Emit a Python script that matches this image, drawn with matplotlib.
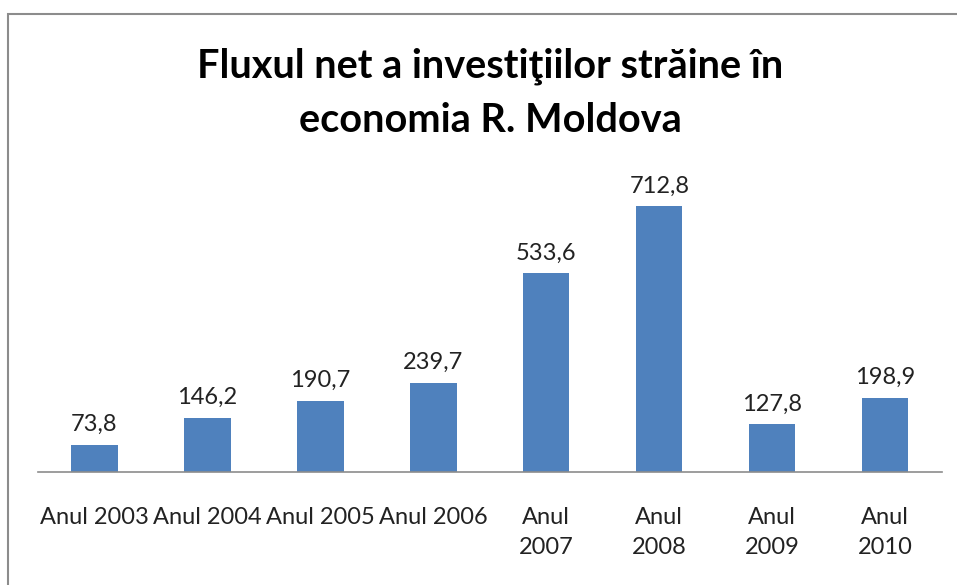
import matplotlib.pyplot as plt
from matplotlib.patches import Rectangle

years = ["Anul 2003", "Anul 2004", "Anul 2005", "Anul 2006",
         "Anul\n2007", "Anul\n2008", "Anul\n2009", "Anul\n2010"]
values = [73.8, 146.2, 190.7, 239.7, 533.6, 712.8, 127.8, 198.9]
value_labels = ["73,8", "146,2", "190,7", "239,7", "533,6", "712,8", "127,8", "198,9"]

plt.rcParams['font.family'] = ['Lato', 'DejaVu Sans']

fig = plt.figure(figsize=(9.57, 5.85), dpi=100)

# chart frame (right and bottom edges are cut off in the original)
fig.patches.append(Rectangle((0.008, -0.05), 1.1, 1.026, transform=fig.transFigure,
                             fill=False, edgecolor='#8c8c8c', lw=1.5))

ax = fig.add_axes([0.0397, 0.193, 0.9443, 0.51])
x = range(len(values))
bars = ax.bar(x, values, width=0.41, color='#4f81bd')

for i, v in enumerate(values):
    ax.annotate(value_labels[i], (i, v), xytext=(0, 7), textcoords='offset points',
                ha='center', va='bottom', fontsize=17, color='#222222')

ax.set_xlim(-0.5, len(values) - 0.5)
ax.set_ylim(0, 800)
ax.set_xticks(list(x))
ax.set_xticklabels(years, fontsize=17, color='#222222', linespacing=1.55)
ax.tick_params(axis='x', length=0, pad=25)
ax.set_yticks([])
for s in ['top', 'right', 'left']:
    ax.spines[s].set_visible(False)
ax.spines['bottom'].set_color('#8c8c8c')
ax.spines['bottom'].set_linewidth(1.2)
for lbl in ax.get_xticklabels():
    lbl.set_verticalalignment('top')

fig.text(0.512, 0.841, "Fluxul net a investiţiilor străine în\neconomia R. Moldova",
         ha='center', va='center', fontsize=28.5, fontweight='bold', linespacing=1.55)

fig.savefig('out.png', dpi=100)
